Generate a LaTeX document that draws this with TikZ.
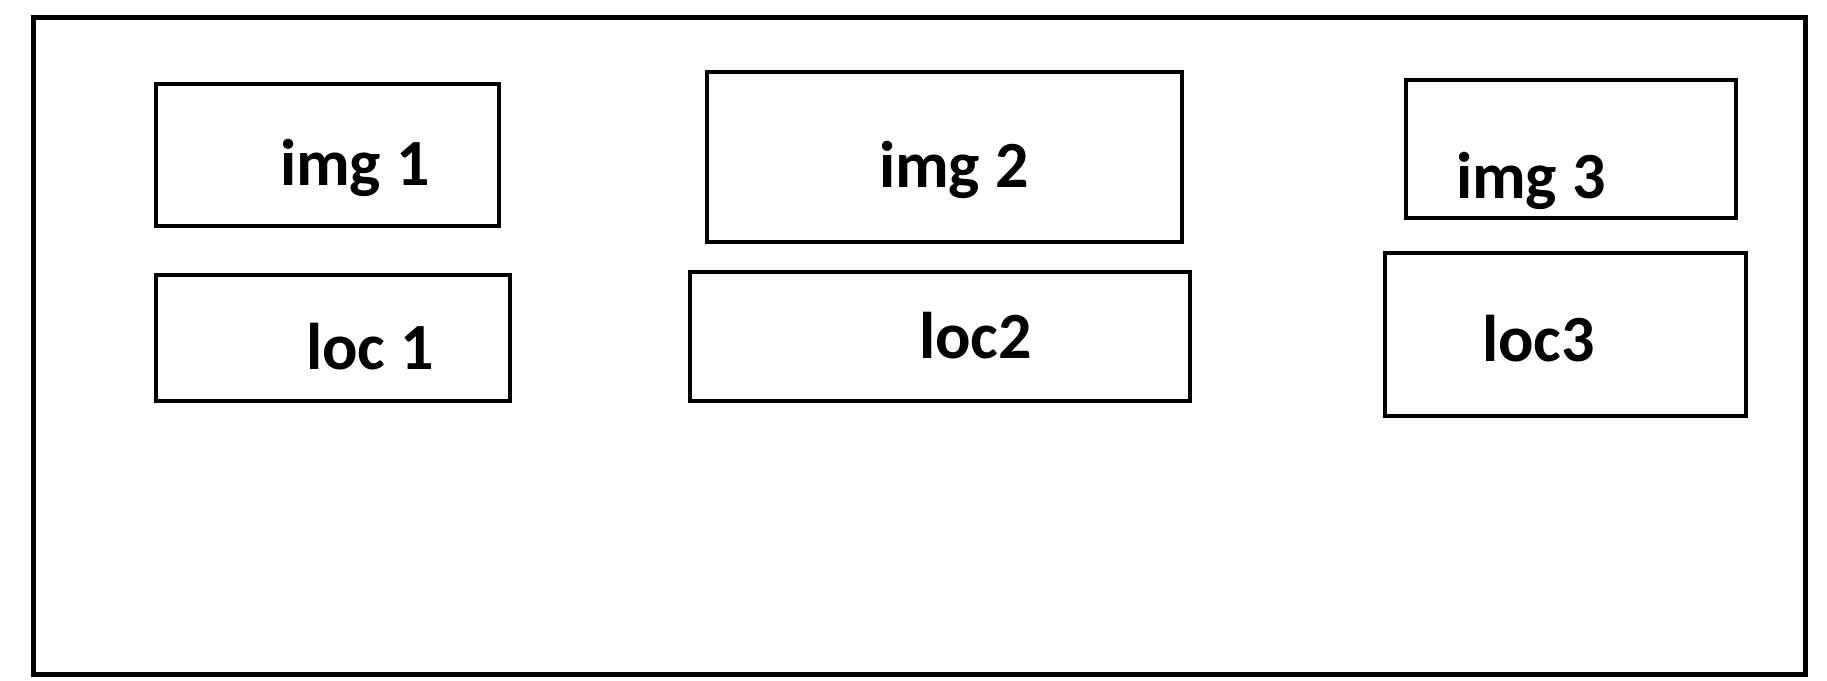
\documentclass[tikz,border=0pt]{standalone}
\usepackage{fontspec}
\setmainfont{Carlito}
\begin{document}
\begin{tikzpicture}[x=1pt,y=-1pt,
  frame/.style={draw=black,line width=5pt,minimum width=1771.5pt,minimum height=657pt,inner sep=0pt,outer sep=0pt},
  box/.style={draw=black,line width=4.8pt,inner sep=0pt,outer sep=0pt},
  lbl/.style={anchor=base west,inner sep=0pt,outer sep=0pt,font=\fontsize{66}{78}\selectfont\bfseries}]
\useasboundingbox (0,0) rectangle (1827,680);
\node[frame] (outer) at (919.25,345.5) {};
\node[box,minimum width=343pt,minimum height=142pt] (img1) at (327.5,155) {};
\node[box,minimum width=354pt,minimum height=126pt] (loc1) at (333,338) {};
\node[box,minimum width=475pt,minimum height=170pt] (img2) at (944.5,157) {};
\node[box,minimum width=500pt,minimum height=129pt] (loc2) at (940,336.5) {};
\node[box,minimum width=330pt,minimum height=138pt] (img3) at (1571,149) {};
\node[box,minimum width=361pt,minimum height=163pt] (loc3) at (1565.5,334.5) {};
\node[lbl] (timg1) at (280,185) {img 1};
\node[lbl] (tloc1) at (306,369) {loc 1};
\node[lbl] (timg2) at (879,187) {img 2};
\node[lbl] (tloc2) at (919,358) {loc2};
\node[lbl] (timg3) at (1456,198) {img 3};
\node[lbl] (tloc3) at (1482,361) {loc3};
\end{tikzpicture}
\end{document}
